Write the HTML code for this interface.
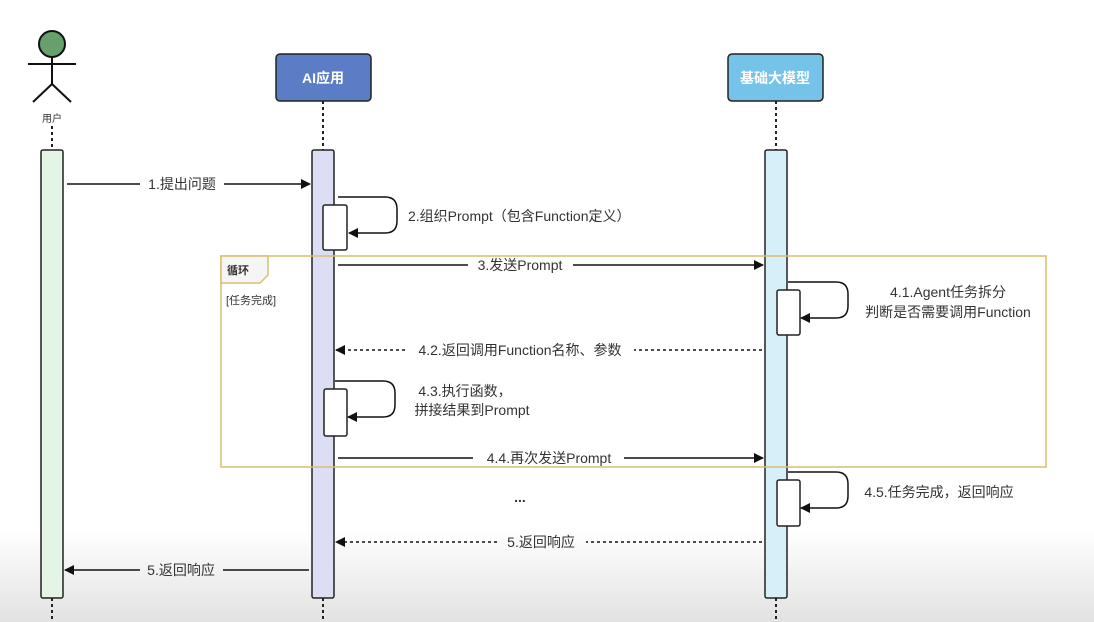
<!DOCTYPE html>
<html><head><meta charset="utf-8"><style>
html,body{margin:0;padding:0;width:1094px;height:622px;overflow:hidden;background:#fff}
text{font-family:"Liberation Sans","Noto Sans CJK SC",sans-serif;fill:#333}
</style></head><body>
<svg width="1094" height="622" viewBox="0 0 1094 622" xmlns="http://www.w3.org/2000/svg">
<defs>
<linearGradient id="bg" x1="0" y1="0" x2="0" y2="1">
<stop offset="0" stop-color="#fff"/><stop offset="1" stop-color="#e2e2e2"/>
</linearGradient>
<marker id="ar" markerWidth="10" markerHeight="10" refX="9" refY="5" orient="auto" markerUnits="userSpaceOnUse"><path d="M0,0 L10,5 L0,10 Z" fill="#111"/></marker>
</defs>
<rect x="0" y="530" width="1094" height="92" fill="url(#bg)"/>
<!-- actor -->
<circle cx="52" cy="44" r="13" fill="#67a06b" stroke="#111" stroke-width="2"/>
<g stroke="#111" stroke-width="2" fill="none">
<line x1="52" y1="57" x2="52" y2="84"/><line x1="28" y1="64" x2="76" y2="64"/>
<line x1="52" y1="84" x2="33" y2="102"/><line x1="52" y1="84" x2="71" y2="102"/>
</g>
<text x="52" y="122" font-size="10" text-anchor="middle">用户</text>
<!-- headers -->
<rect x="276" y="54" width="95" height="47" rx="4" fill="#5b7dc5" stroke="#222" stroke-width="1.5"/>
<text x="323" y="83" font-size="14" font-weight="bold" text-anchor="middle" style="fill:#fff">AI应用</text>
<rect x="728" y="54" width="95" height="47" rx="4" fill="#76c3ea" stroke="#222" stroke-width="1.5"/>
<text x="775" y="83" font-size="14" font-weight="bold" text-anchor="middle" style="fill:#fff">基础大模型</text>
<!-- lifelines -->
<g stroke="#222" stroke-width="2" stroke-dasharray="3,3">
<line x1="52" y1="126" x2="52" y2="150"/><line x1="52" y1="598" x2="52" y2="622"/>
<line x1="323" y1="101" x2="323" y2="150"/><line x1="323" y1="598" x2="323" y2="622"/>
<line x1="776" y1="101" x2="776" y2="150"/><line x1="776" y1="598" x2="776" y2="622"/>
</g>
<rect x="41" y="150" width="22" height="448" rx="2" fill="#e4f4e5" stroke="#222" stroke-width="1.5"/>
<rect x="312" y="150" width="22" height="448" rx="2" fill="#dcdff3" stroke="#222" stroke-width="1.5"/>
<rect x="765" y="150" width="22" height="448" rx="2" fill="#d7eff9" stroke="#222" stroke-width="1.5"/>
<!-- loop -->
<rect x="221" y="256" width="825" height="211" fill="none" stroke="#d9bd6e" stroke-width="1.5"/>
<path d="M221,256 H268 V275 L260,283 H221 Z" fill="#f5f5f5" stroke="#d9bd6e" stroke-width="1.5"/>
<text x="227" y="274" font-size="11" font-weight="bold">循环</text>
<text x="226" y="304" font-size="11">[任务完成]</text>
<!-- activations -->
<g fill="#fff" stroke="#222" stroke-width="1.5">
<rect x="323" y="205" width="24" height="45" rx="2"/>
<rect x="777" y="290" width="23" height="45" rx="2"/>
<rect x="324" y="389" width="23" height="47" rx="2"/>
<rect x="777" y="480" width="23" height="46" rx="2"/>
</g>
<!-- messages -->
<g stroke="#111" stroke-width="1.5" fill="none">
<line x1="67" y1="184" x2="140" y2="184"/><line x1="224" y1="184" x2="310" y2="184" marker-end="url(#ar)"/>
<path d="M338,197 H385 Q397,197 397,209 V221 Q397,233 385,233 H349" marker-end="url(#ar)"/>
<line x1="338" y1="265" x2="468" y2="265"/><line x1="573" y1="265" x2="763" y2="265" marker-end="url(#ar)"/>
<path d="M788,282 H836 Q848,282 848,294 V306 Q848,318 836,318 H801" marker-end="url(#ar)"/>
<line x1="762" y1="350" x2="634" y2="350" stroke-dasharray="3,3"/><line x1="405" y1="350" x2="336" y2="350" stroke-dasharray="3,3" marker-end="url(#ar)"/>
<path d="M335,381 H383 Q395,381 395,393 V405 Q395,417 383,417 H348" marker-end="url(#ar)"/>
<line x1="338" y1="458" x2="473" y2="458"/><line x1="624" y1="458" x2="763" y2="458" marker-end="url(#ar)"/>
<path d="M788,472 H836 Q848,472 848,484 V496 Q848,508 836,508 H801" marker-end="url(#ar)"/>
<line x1="762" y1="542" x2="586" y2="542" stroke-dasharray="3,3"/><line x1="497" y1="542" x2="336" y2="542" stroke-dasharray="3,3" marker-end="url(#ar)"/>
<line x1="309" y1="570" x2="223" y2="570"/><line x1="140" y1="570" x2="65" y2="570" marker-end="url(#ar)"/>
</g>
<g font-size="14">
<text x="182" y="189" text-anchor="middle">1.提出问题</text>
<text x="408" y="221">2.组织Prompt（包含Function定义）</text>
<text x="520" y="270" text-anchor="middle">3.发送Prompt</text>
<text x="948" y="297" text-anchor="middle">4.1.Agent任务拆分</text>
<text x="948" y="317" text-anchor="middle">判断是否需要调用Function</text>
<text x="520" y="355" text-anchor="middle">4.2.返回调用Function名称、参数</text>
<text x="465" y="396" text-anchor="middle">4.3.执行函数，</text>
<text x="472" y="415" text-anchor="middle">拼接结果到Prompt</text>
<text x="549" y="463" text-anchor="middle">4.4.再次发送Prompt</text>
<text x="939" y="497" text-anchor="middle">4.5.任务完成，返回响应</text>
<text x="520" y="502" text-anchor="middle" font-weight="bold">...</text>
<text x="541" y="547" text-anchor="middle">5.返回响应</text>
<text x="181" y="575" text-anchor="middle">5.返回响应</text>
</g>
</svg>
</body></html>
